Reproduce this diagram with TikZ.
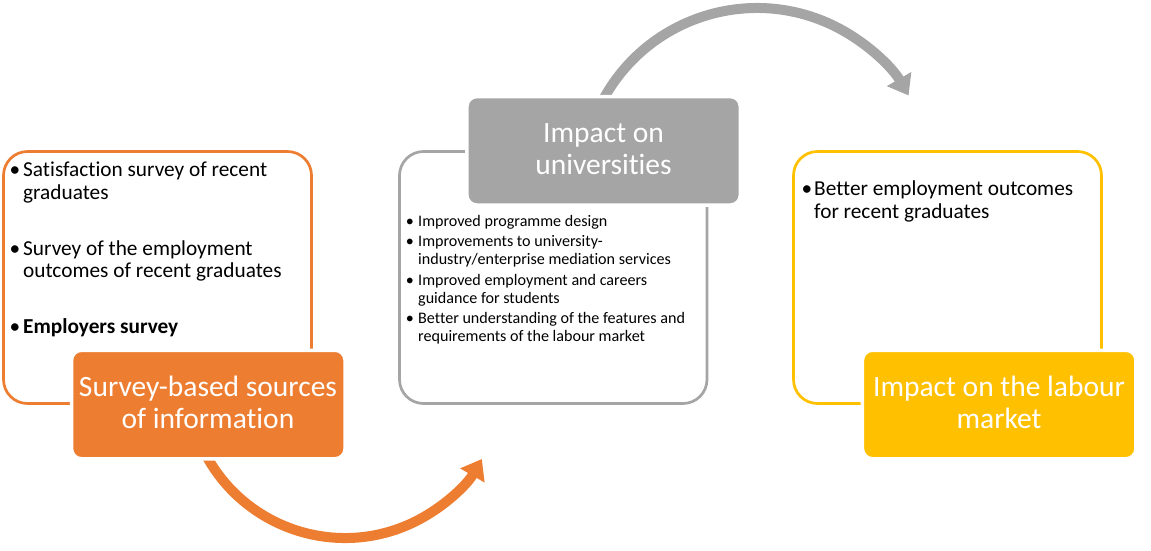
\documentclass[tikz,border=0pt]{standalone}
\usepackage{fontspec}
\setmainfont{Carlito}[Ligatures=CommonOff]
\usetikzlibrary{arrows.meta}
\definecolor{orangeC}{HTML}{ED7D31}
\definecolor{grayC}{HTML}{A5A5A5}
\definecolor{yellowC}{HTML}{FFC000}
\tikzset{
  outbox/.style={line width=2.7pt, rounded corners=24pt, minimum width=308pt, minimum height=252pt, inner sep=0pt, fill=white},
  headbox/.style={draw=white, line width=3.5pt, rounded corners=10pt, minimum width=273.5pt, minimum height=108.5pt, inner sep=0pt},
  txt/.style={anchor=base west, inner sep=0pt, font=\fontsize{21.3}{23}\selectfont},
  bul/.style={anchor=base, inner sep=0pt, font=\fontsize{21.3}{23}\selectfont},
  stxt/.style={anchor=base west, inner sep=0pt, font=\fontsize{16.1}{18}\selectfont},
  sbul/.style={anchor=base, inner sep=0pt, font=\fontsize{16.1}{18}\selectfont},
  lbl/.style={anchor=base, inner sep=0pt, text=white, font=\fontsize{29.5}{32}\selectfont},
  arrowline/.style={line width=10pt, -{Triangle[length=19pt,width=27pt]}}
}
\begin{document}
\begin{tikzpicture}[x=1pt,y=-1pt]
\useasboundingbox (0,0) rectangle (1151,550);
% outline boxes
\node[outbox, draw=orangeC] (lbox) at (157.5,277.5) {};
\node[outbox, draw=grayC, minimum width=307.5pt] (mbox) at (553.25,277.5) {};
\node[outbox, draw=yellowC] (rbox) at (947.5,277.5) {};
% arrows
\coordinate (oc) at (345,380);
\coordinate (gc) at (757,183);
\draw[arrowline, orangeC] ([shift={(152:158)}]oc) arc[start angle=152, end angle=30, radius=158];
\draw[arrowline, grayC] ([shift={(208:175)}]gc) arc[start angle=208, end angle=330, radius=175];
% header boxes
\node[headbox, fill=orangeC] (lhead) at (208.3,404.5) {};
\node[headbox, fill=grayC] (mhead) at (603.6,150.8) {};
\node[headbox, fill=yellowC] (rhead) at (999.2,404.5) {};
% header labels
\node[lbl] (l1) at (208,396) {Survey-based sources};
\node[lbl] (l2) at (208,428) {of information};
\node[lbl] (m1) at (603.5,142) {Impact on};
\node[lbl] (m2) at (603.5,174) {universities};
\node[lbl] (r1) at (999,396) {Impact on the labour};
\node[lbl] (r2) at (999,428) {market};
% left list
\node[bul] (lb1) at (15,176) {\textbullet};
\node[txt] (lt1) at (23,176) {Satisfaction survey of recent};
\node[txt] (lt2) at (23,199) {graduates};
\node[bul] (lb2) at (15,255) {\textbullet};
\node[txt] (lt3) at (23,255) {Survey of the employment};
\node[txt] (lt4) at (23,277.5) {outcomes of recent graduates};
\node[bul] (lb3) at (15,333) {\textbullet};
\node[txt] (lt5) at (23,333) {\bfseries Employers survey};
% middle list
\node[sbul] (mb1) at (410,226.5) {\textbullet};
\node[stxt] (mt1) at (418,226.5) {Improved programme design};
\node[sbul] (mb2) at (410,246) {\textbullet};
\node[stxt] (mt2) at (418,246) {Improvements to university-};
\node[stxt] (mt3) at (418,264.5) {industry/enterprise mediation services};
\node[sbul] (mb3) at (410,285) {\textbullet};
\node[stxt] (mt4) at (418,285) {Improved employment and careers};
\node[stxt] (mt5) at (418,303.5) {guidance for students};
\node[sbul] (mb4) at (410,323) {\textbullet};
\node[stxt] (mt6) at (418,323) {Better understanding of the features and};
\node[stxt] (mt7) at (418,341) {requirements of the labour market};
% right list
\node[bul] (rb1) at (807,195) {\textbullet};
\node[txt] (rt1) at (814,195) {Better employment outcomes};
\node[txt] (rt2) at (814,218) {for recent graduates};
\end{tikzpicture}
\end{document}
